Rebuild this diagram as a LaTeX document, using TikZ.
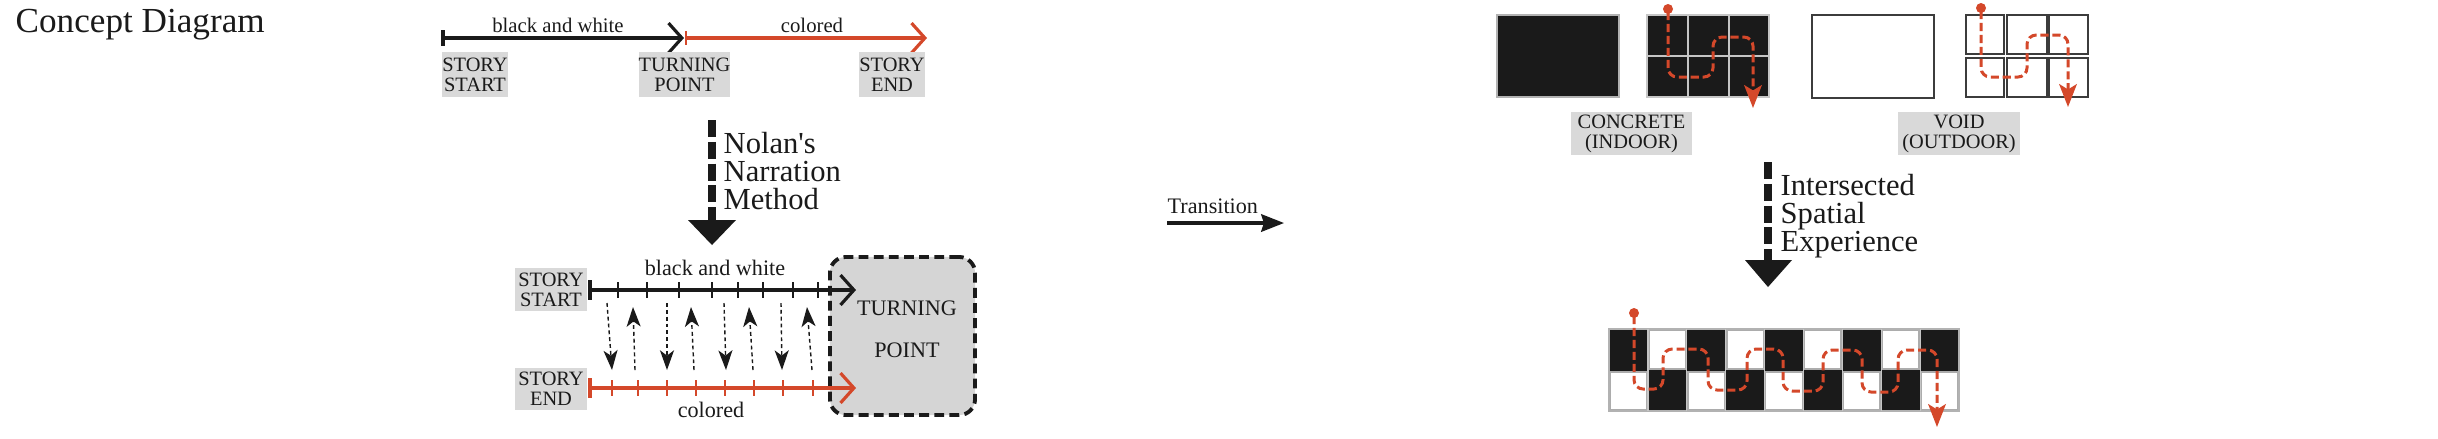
\documentclass[tikz,border=0pt]{standalone}
\usepackage{fontspec}
\setmainfont{Liberation Serif}
\usetikzlibrary{arrows.meta}
\definecolor{ink}{HTML}{1A1A1A}
\definecolor{rd}{HTML}{D4482A}
\definecolor{lbl}{HTML}{D9D9D9}
\definecolor{tpfill}{HTML}{D5D5D5}
\newcommand{\fsz}[2]{\fontsize{#1}{#2}\selectfont}
\begin{document}
\begin{tikzpicture}[x=0.01cm,y=-0.01cm,
  tag/.style={fill=lbl, inner sep=0pt, align=center, text=ink, font=\fsz{5.8pt}{5.7pt}},
  small/.style={inner sep=0pt, text=ink, font=\fsz{5.9pt}{7pt}},
  big/.style={inner sep=0pt, text=ink, align=left, anchor=north west, font=\fsz{8.7pt}{7.9pt}},
  barb/.style={-{Straight Barb[length=3.8pt,width=8.5pt]}},
  tick/.style={line width=0.6pt},
  thinarr/.style={ink, line width=0.4pt, dash pattern=on 1.1pt off 0.85pt, -{Stealth[length=5.6pt,width=4pt,inset=1.5pt]}},
  fatbar/.style={ink, line width=2.3pt, dash pattern=on 4.8pt off 1.4pt},
  rpath/.style={rd, line width=0.85pt, dash pattern=on 2.3pt off 1.1pt, rounded corners=2.6pt, -{Stealth[length=6.5pt,width=5pt,inset=1.5pt]}},
  bcell/.style={fill=ink, draw=gray!45, line width=0.45pt},
  ocell/.style={fill=white, draw=ink!85, line width=0.6pt},
  wcell/.style={fill=white, draw=gray!65, line width=0.4pt}]
\useasboundingbox (0,0) rectangle (2438,438);

% title
\node[anchor=base west, inner sep=0pt, text=ink, font=\fsz{10pt}{12pt}] (title) at (15,32) {Concept Diagram};

% ---------- top timeline ----------
\coordinate (ts) at (443,38);
\coordinate (tm) at (684,38);
\coordinate (tr) at (686,38);
\coordinate (te) at (927,38);
\draw[ink, line width=0.9pt, barb] (ts) -- (tm);
\draw[ink, line width=1pt] (443,30) -- (443,46);
\draw[rd, line width=0.9pt, barb] (tr) -- (te);
\draw[rd, line width=0.5pt] (686,31) -- (686,45);
\node[small] (bw1) at (558,25) {black and white};
\node[small] (col1) at (812,25) {colored};
\node[tag, minimum width=0.64cm, minimum height=0.45cm] (ss1) at (475,74.5) {STORY\\START};
\node[tag, minimum width=0.89cm, minimum height=0.45cm] (tp1) at (684.5,74.5) {TURNING\\POINT};
\node[tag, minimum width=0.60cm, minimum height=0.45cm] (se1) at (892,74.5) {STORY\\END};

% ---------- Nolan arrow ----------
\coordinate (n1) at (712,120);
\coordinate (n2) at (712,220);
\coordinate (n3) at (712,245);
\draw[fatbar] (n1) -- (n2);
\fill[ink] (688,220) -- (736,220) -- (n3) -- cycle;
\node[big] (nolan) at (723,132) {Nolan\textquotesingle s\\Narration\\Method};

% ---------- bottom timeline ----------
\node[draw=ink, fill=tpfill, line width=1.1pt, dash pattern=on 2.8pt off 1.5pt, rounded corners=4.5pt, minimum width=1.45cm, minimum height=1.58cm] (tpbox) at (902.5,336) {};
\node[inner sep=0pt, align=center, text=ink, font=\fsz{6.3pt}{12pt}] (tptext) at (907,329) {TURNING\\POINT};
\node[tag, minimum width=0.72cm, minimum height=0.43cm] (ss2) at (551,289.5) {STORY\\START};
\node[tag, minimum width=0.72cm, minimum height=0.42cm] (se2) at (551,389) {STORY\\END};
\coordinate (b0) at (590,290);
\coordinate (b1) at (856,290);
\coordinate (r0) at (590,388);
\coordinate (r1) at (856,388);
\draw[ink, line width=0.9pt, barb] (b0) -- (b1);
\draw[ink, line width=1pt] (590,280) -- (590,300);
\foreach \x in {618,647,679,712,738,763,793,818} \draw[ink, tick] (\x,282) -- (\x,298);
\draw[rd, line width=0.9pt, barb] (r0) -- (r1);
\draw[rd, line width=1pt] (590,378) -- (590,398);
\foreach \x in {612,638,667,696,725,754,783,813} \draw[rd, tick] (\x,380) -- (\x,396);
\node[small, font=\fsz{6.3pt}{7pt}] (bw2) at (715,268) {black and white};
\node[small, font=\fsz{6.3pt}{7pt}] (col2) at (711,410) {colored};
\foreach \a/\b/\c/\d in {607/303/612/370, 667/303/667/370, 724/303/726/370, 781/303/782/370,
                         635/370/633/307, 694/370/691/307, 753/370/749/307, 812/370/807/307}
  \draw[thinarr] (\a,\b) -- (\c,\d);

% ---------- Transition ----------
\coordinate (tra) at (1167,223);
\coordinate (trb) at (1284,223);
\draw[ink, line width=0.9pt, -{Stealth[length=6.5pt,width=5pt,inset=0.8pt]}] (tra) -- (trb);
\node[anchor=base west, inner sep=0pt, text=ink, font=\fsz{6.3pt}{7pt}] (trans) at (1167,213) {Transition};

% ---------- right top ----------
\draw[fill=ink, draw=gray!60, line width=0.4pt] (1497,15) rectangle (1619,97);
\foreach \xa/\xb in {1647/1688, 1688/1729, 1729/1769}
  \foreach \ya/\yb in {15/56, 56/97}
    \draw[bcell] (\xa,\ya) rectangle (\xb,\yb);
\fill[rd] (1668,9) circle[radius=0.05cm];
\draw[rpath] (1668,12) -- (1668,77) -- (1713,77) -- (1713,37) -- (1753,37) -- (1753,108);
\node[tag, minimum width=1.21cm, minimum height=0.43cm] (conc) at (1631.5,133.5) {CONCRETE\\(INDOOR)};

\draw[fill=white, draw=ink!85, line width=0.6pt] (1812,15) rectangle (1934,98);
\foreach \xa/\xb in {1966/2004, 2007/2047, 2049/2088}
  \foreach \ya/\yb in {15/54, 58/97}
    \draw[ocell] (\xa,\ya) rectangle (\xb,\yb);
\fill[rd] (1981,8) circle[radius=0.05cm];
\draw[rpath] (1981,11) -- (1981,77) -- (2027,77) -- (2027,35) -- (2068,35) -- (2068,107);
\node[tag, minimum width=1.22cm, minimum height=0.43cm] (void) at (1959,133.5) {VOID\\(OUTDOOR)};

% ---------- Intersected arrow ----------
\coordinate (i1) at (1768,162);
\coordinate (i2) at (1768,260);
\coordinate (i3) at (1768,287);
\draw[fatbar] (i1) -- (i2);
\fill[ink] (1745,260) -- (1792,260) -- (i3) -- cycle;
\node[big] (inter) at (1780,174) {Intersected\\Spatial\\Experience};

% ---------- checkerboard ----------
\fill[ink] (1609,329) rectangle (1959,411);
\foreach \i in {1,3,5,7}
  \draw[wcell] ({1609+\i*38.89+1.2},330.5) rectangle ({1609+(\i+1)*38.89-1.2},369);
\foreach \i in {0,2,4,6,8}
  \draw[wcell] ({1609+\i*38.89+1.2},372) rectangle ({1609+(\i+1)*38.89-1.2},409.5);
\draw[gray!60, line width=0.45pt] (1609,329) rectangle (1959,411);
\foreach \i in {1,...,8} \draw[gray!45, line width=0.35pt] ({1609+\i*38.89},329) -- ({1609+\i*38.89},411);
\fill[rd] (1634,313) circle[radius=0.05cm];
\draw[rpath] (1634,316) -- (1634,389) -- (1663,389) -- (1663,349) -- (1708,349) -- (1708,390)
  -- (1747,390) -- (1747,349) -- (1783,349) -- (1783,391) -- (1823,391) -- (1823,350)
  -- (1862,350) -- (1862,392) -- (1898,392) -- (1898,350) -- (1937,350) -- (1937,427);
\end{tikzpicture}
\end{document}
